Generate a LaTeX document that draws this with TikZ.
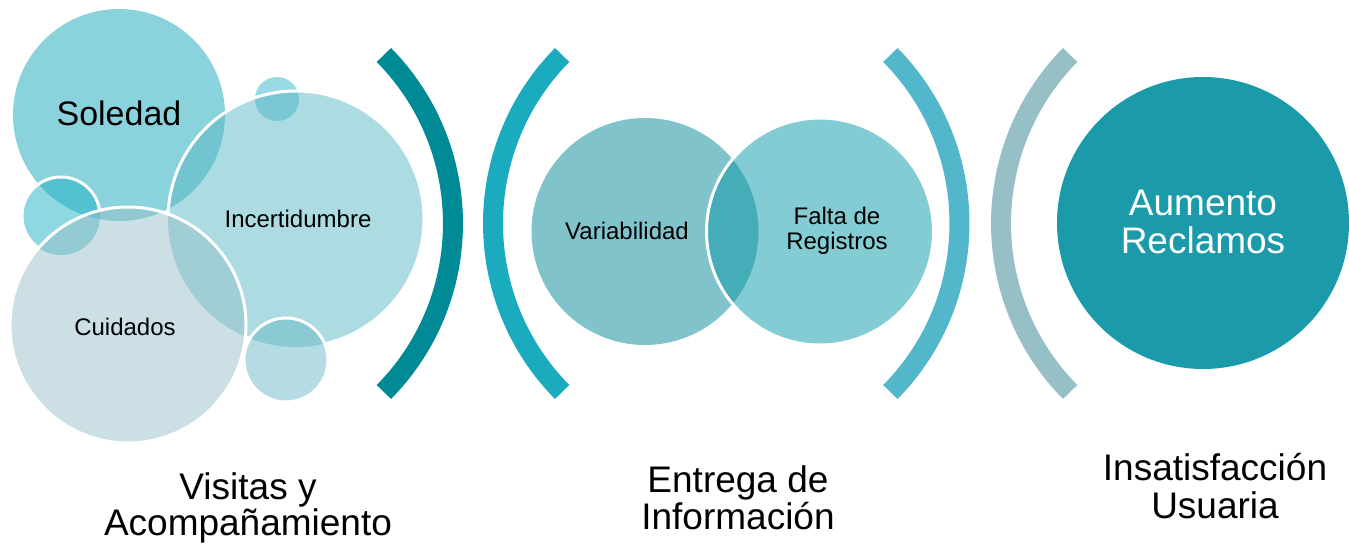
\documentclass[tikz,border=0pt]{standalone}
\usepackage{fontspec}
\setmainfont{Liberation Sans}
\definecolor{solC}{HTML}{8AD3DC}
\definecolor{tsmC}{HTML}{99D9E3}
\definecolor{incC}{HTML}{59B7C5}
\definecolor{lsmC}{HTML}{1FB1C5}
\definecolor{cuiC}{HTML}{97BFC9}
\definecolor{bsmC}{HTML}{6BB9C5}
\definecolor{varC}{HTML}{80C3CA}
\definecolor{falC}{HTML}{0999A7}
\definecolor{aumC}{HTML}{1B9AA9}
\definecolor{brA}{HTML}{008A96}
\definecolor{brB}{HTML}{1AABBF}
\definecolor{brC}{HTML}{52B7CA}
\definecolor{brD}{HTML}{97BFC6}
\begin{document}
\begin{tikzpicture}[x=1pt,y=1pt,
  bubble/.style={circle, inner sep=0pt, outer sep=0pt, draw=none},
  seethru/.style={fill opacity=0.5},
  rim/.style={draw=white, line width=3pt},
  bracketline/.style={line width=20pt, line cap=butt},
  lbl/.style={inner sep=0pt, align=center, text=black}]
\useasboundingbox (0,0) rectangle (1349,549);
% centres
\coordinate (cSol) at (119,434);
\coordinate (cTsm) at (277,450);
\coordinate (cInc) at (296,330);
\coordinate (cLsm) at (61,333);
\coordinate (cCui) at (128,224);
\coordinate (cBsm) at (286,189);
\coordinate (cVar) at (645,317.5);
\coordinate (cFal) at (820,317.5);
\coordinate (cAum) at (1203,326);
\coordinate (k1) at (213,325.5);
\coordinate (k2) at (733,325.5);
\coordinate (k3) at (719.5,325.5);
\coordinate (k4) at (1241,325.5);
% first group of bubbles
\node[bubble, minimum size=212pt, fill=solC] (sol) at (cSol) {};
\node[bubble, minimum size=44pt, fill=tsmC] (tsm) at (cTsm) {};
\node[bubble, minimum size=256pt, fill=incC, seethru] (inc) at (cInc) {};
\begin{scope}[even odd rule]
  \clip (0,0) rectangle (1349,549) (cCui) circle[radius=118pt] (cBsm) circle[radius=42pt];
  \draw[rim] (cInc) circle[radius=128pt];
\end{scope}
\node[bubble, minimum size=78pt, fill=lsmC, seethru] (lsm) at (cLsm) {};
\begin{scope}[even odd rule]
  \clip (0,0) rectangle (1349,549) (cCui) circle[radius=118pt];
  \draw[rim] (cLsm) circle[radius=39pt];
\end{scope}
\node[bubble, minimum size=236pt, fill=cuiC, seethru] (cui) at (cCui) {};
\begin{scope}[even odd rule]
  \clip (0,0) rectangle (1349,549) (cBsm) circle[radius=42pt];
  \draw[rim] (cCui) circle[radius=118pt];
\end{scope}
\node[bubble, minimum size=84pt, fill=bsmC, seethru] (bsm) at (cBsm) {};
\draw[rim] (cBsm) circle[radius=42pt];
% second group
\node[bubble, minimum size=227pt, fill=varC] (var) at (cVar) {};
\node[bubble, minimum size=227pt, fill=falC, seethru] (fal) at (cFal) {};
\draw[rim] (cFal) circle[radius=113.5pt];
% third
\node[bubble, minimum size=292pt, fill=aumC] (aum) at (cAum) {};
% brackets
\draw[bracketline, brA] ([shift={(-44.6:240pt)}]k1) arc[start angle=-44.6, end angle=44.6, radius=240pt];
\draw[bracketline, brB] ([shift={(135.4:240pt)}]k2) arc[start angle=135.4, end angle=224.6, radius=240pt];
\draw[bracketline, brC] ([shift={(-44.6:240pt)}]k3) arc[start angle=-44.6, end angle=44.6, radius=240pt];
\draw[bracketline, brD] ([shift={(135.4:240pt)}]k4) arc[start angle=135.4, end angle=224.6, radius=240pt];
% labels
\node[lbl, font=\fontsize{34}{40}\selectfont] (tSol) at (119,436) {Soledad};
\node[lbl, font=\fontsize{24}{28}\selectfont] (tInc) at (298,330) {Incertidumbre};
\node[lbl, font=\fontsize{24}{28}\selectfont] (tCui) at (125,222) {Cuidados};
\node[lbl, font=\fontsize{24}{28}\selectfont] (tVar) at (627,318) {Variabilidad};
\node[lbl, font=\fontsize{24}{25}\selectfont] (tFal) at (837,318) {Falta de\\Registros};
\node[lbl, text=white, font=\fontsize{37}{38}\selectfont] (tAum) at (1203,327) {Aumento\\Reclamos};
\node[lbl, font=\fontsize{37}{36}\selectfont] (tVis) at (248,41) {Visitas y\\Acompañamiento};
\node[lbl, font=\fontsize{37}{37}\selectfont] (tEnt) at (738,51) {Entrega de\\Información};
\node[lbl, font=\fontsize{37}{38}\selectfont] (tIns) at (1215,63) {Insatisfacción\\Usuaria};
\end{tikzpicture}
\end{document}
